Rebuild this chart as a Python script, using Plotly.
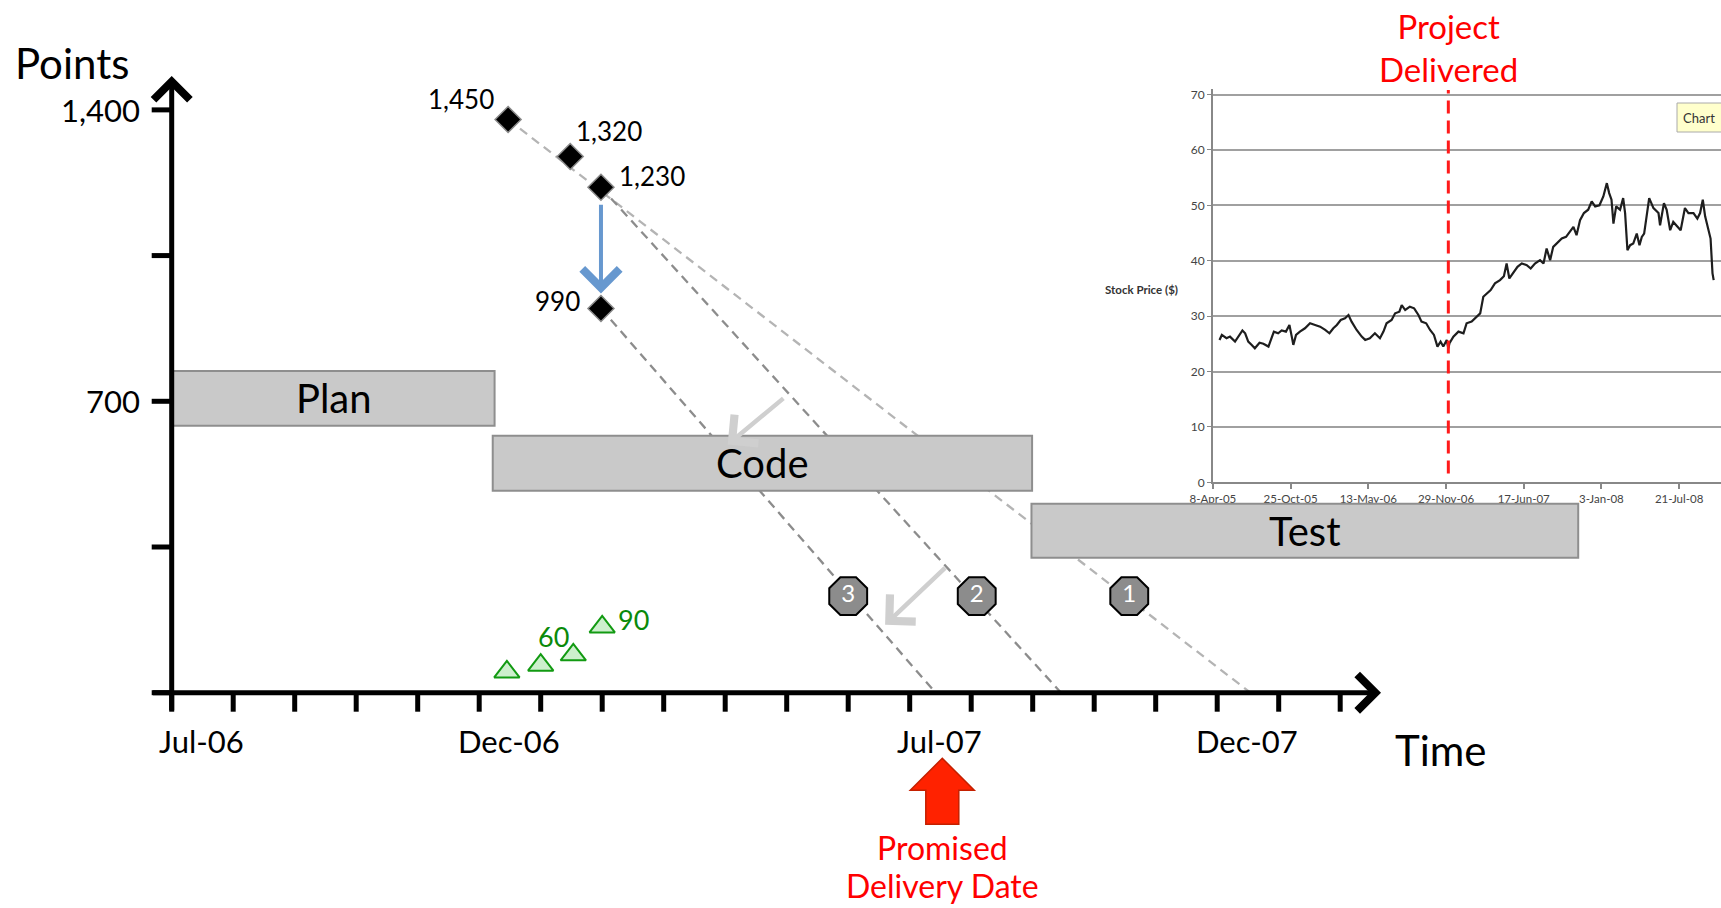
import plotly.graph_objects as go
import pandas as pd

# ---------------- data: main burn-down sketch (x = months since Jul-06, y = points)
month_tick_index = list(range(20))
month_labels = ["Jul-06", "Dec-06", "Jul-07", "Dec-07"]
month_label_index = [0, 5, 12, 17]
y_tick_values = [0, 350, 700, 1050, 1400]
y_tick_labels = ["", "", "700", "", "1,400"]

remaining_month = [5.47, 6.48, 6.98, 6.98]
remaining_pts = [1377, 1288, 1214, 923]
remaining_labels = ["1,450", "1,320", "1,230", "990"]

velocity_month = [5.45, 6.0, 6.53, 7.0]
velocity_pts = [50, 66, 91, 158]
velocity_labels = ["", "", "60", "90"]

proj_ids = ["1", "2", "3"]
proj_start_month = [5.47, 6.98, 6.98]
proj_start_pts = [1377, 1214, 923]
proj_end_month = [17.54, 14.46, 12.42]
proj_marker_month = [15.57, 13.09, 11.0]
proj_marker_pts = [232, 232, 232]

phase_names = ["Plan", "Code", "Test"]
phase_start = [0.02, 5.22, 13.98]
phase_end = [5.25, 13.99, 22.87]
phase_low = [641, 485, 324]
phase_high = [773, 617, 454]

replan_arrow_month = [6.98, 6.98]
replan_arrow_pts = [1176, 959]

shift_arrow_from_month = [9.97, 12.60]
shift_arrow_from_pts = [710, 303]
shift_arrow_to_month = [9.04, 11.60]
shift_arrow_to_pts = [596, 163]

promised_month = 12.53
promised_caption = ["Promised", "Delivery Date"]

# ---------------- data: inset stock chart (days since 8-Apr-05, price $)
stock_start = "2005-04-08"
stock_day = [17, 23, 35, 44, 57, 66, 76, 83, 91, 100, 108, 120, 130, 143, 151, 157, 168, 177,
             188, 197, 203, 207, 214, 224, 237, 250, 263, 276, 289, 300, 310, 319, 329, 340,
             349, 357, 370, 383, 392, 404, 417, 430, 439, 447, 460, 469, 480, 486, 495, 507,
             518, 529, 537, 549, 559, 569, 578, 586, 593, 602, 606, 609, 619, 632, 645, 653,
             666, 679, 688, 696, 705, 715, 726, 739, 749, 756, 763, 773, 784, 795, 808, 818,
             829, 842, 851, 859, 868, 876, 889, 898, 909, 919, 928, 936, 945, 955, 966, 975,
             984, 995, 1005, 1014, 1020, 1026, 1031, 1038, 1048, 1056, 1061, 1067, 1074, 1082,
             1091, 1098, 1104, 1110, 1117, 1123, 1134, 1147, 1151, 1161, 1168, 1177, 1185, 1195,
             1204, 1215, 1224, 1237, 1247, 1254, 1261, 1267, 1275, 1281, 1286, 1289]
stock_price = [25.7, 26.6, 26.0, 26.3, 25.4, 26.3, 27.4, 26.9, 25.4, 24.8, 24.2, 25.2, 25.0, 24.5,
               26.0, 27.2, 26.9, 27.4, 27.2, 28.4, 26.3, 24.8, 26.6, 27.2, 27.8, 28.7, 28.4, 28.1,
               27.5, 26.9, 27.8, 28.4, 29.3, 29.6, 30.2, 29.0, 27.5, 26.3, 25.7, 26.0, 26.9, 26.0,
               27.2, 28.7, 29.3, 30.5, 30.8, 32.0, 31.1, 31.7, 31.4, 30.2, 29.0, 28.7, 27.5, 26.6,
               24.5, 25.4, 24.5, 25.7, 24.2, 25.1, 26.3, 27.2, 26.9, 28.7, 29.0, 29.9, 30.5, 33.5,
               34.1, 34.7, 35.9, 36.5, 37.2, 39.5, 36.8, 37.7, 38.9, 39.5, 39.2, 38.6, 39.5, 40.1,
               39.5, 42.2, 40.1, 42.5, 43.4, 44.0, 44.3, 45.2, 46.1, 44.6, 47.3, 48.6, 49.2, 50.7,
               49.8, 50.0, 51.6, 54.0, 52.2, 51.0, 46.7, 49.8, 49.2, 51.3, 48.6, 41.9, 42.8, 43.1,
               44.9, 42.8, 44.3, 44.9, 48.6, 51.3, 49.5, 48.6, 46.4, 50.4, 49.2, 45.5, 47.0, 46.1,
               45.5, 49.5, 48.6, 48.6, 47.6, 48.6, 51.0, 48.0, 45.8, 44.0, 37.7, 36.5]
stock_tick_dates = ["2005-04-08", "2005-10-25", "2006-05-13", "2006-11-29",
                    "2007-06-17", "2008-01-03", "2008-07-21"]
stock_tick_labels = ["8-Apr-05", "25-Oct-05", "13-May-06", "29-Nov-06",
                     "17-Jun-07", "3-Jan-08", "21-Jul-08"]
stock_y_ticks = [0, 10, 20, 30, 40, 50, 60, 70]
delivered_date = "2006-12-05"

# ---------------- geometry (pixels of the 1721x908 canvas)
W, H = 1721, 908
X0_PX, PX_PER_MONTH = 171.7, 61.5
Y0_PX, PX_PER_PT = 692.7, 0.4163
INSET_LEFT_PX, INSET_PX_PER_DAY = 1212.9, 0.3885
INSET_ZERO_PX, INSET_PX_PER_UNIT = 482.3, 5.54


def mx(px):
    return (px - X0_PX) / PX_PER_MONTH


def py(px):
    return (Y0_PX - px) / PX_PER_PT


FONT = "Lato"
start = pd.Timestamp(stock_start)
stock_dates = start + pd.to_timedelta(stock_day, unit="D")
inset_end = start + pd.Timedelta(days=(W - INSET_LEFT_PX) / INSET_PX_PER_DAY)

fig = go.Figure()

# projection lines
proj_colors = ["#b4b4b4", "#8c8c8c", "#8c8c8c"]
for i in range(len(proj_ids)):
    fig.add_trace(go.Scatter(
        x=[proj_start_month[i], proj_end_month[i]], y=[proj_start_pts[i], 0],
        mode="lines", line=dict(color=proj_colors[i], width=2.3, dash="9px,6px"),
        hoverinfo="skip", showlegend=False))

# remaining points (diamonds)
fig.add_trace(go.Scatter(
    x=remaining_month, y=remaining_pts, mode="markers",
    marker=dict(symbol="diamond", size=20, color="black", line=dict(color="#8a8a8a", width=1.5)),
    hoverinfo="skip", showlegend=False))

# velocity (green triangles)
fig.add_trace(go.Scatter(
    x=velocity_month, y=velocity_pts, mode="markers",
    marker=dict(symbol="triangle-up", size=22, color="#cdefcd", line=dict(color="#129a12", width=2)),
    hoverinfo="skip", showlegend=False))

# projection markers
fig.add_trace(go.Scatter(
    x=proj_marker_month, y=proj_marker_pts, mode="markers+text", text=proj_ids,
    textposition="middle center", textfont=dict(family=FONT, size=24, color="white"),
    marker=dict(symbol="octagon", size=41, color="#8c8c8c", line=dict(color="black", width=2)),
    hoverinfo="skip", showlegend=False))

# inset stock price
fig.add_trace(go.Scatter(
    x=stock_dates, y=stock_price, xaxis="x2", yaxis="y2", mode="lines",
    line=dict(color="#1e1e1e", width=2.2), hoverinfo="skip", showlegend=False))
fig.add_trace(go.Scatter(
    x=[delivered_date, delivered_date], y=[1.6, 70.8], xaxis="x2", yaxis="y2", mode="lines",
    line=dict(color="#ff1a1a", width=3, dash="13px,7px"), hoverinfo="skip", showlegend=False))

shapes = []
# axis ticks
for v in y_tick_values:
    shapes.append(dict(type="line", xref="x", yref="y", xsizemode="pixel", xanchor=0,
                       x0=-20, x1=0, y0=v, y1=v, line=dict(color="black", width=5)))
for m in month_tick_index:
    shapes.append(dict(type="line", xref="x", yref="y", ysizemode="pixel", yanchor=0,
                       y0=0, y1=-19, x0=m, x1=m, line=dict(color="black", width=5)))
# phase boxes
for i in range(len(phase_names)):
    shapes.append(dict(type="rect", xref="x", yref="y", x0=phase_start[i], x1=phase_end[i],
                       y0=phase_low[i], y1=phase_high[i], fillcolor="#c9c9c9",
                       line=dict(color="#8e8e8e", width=2), layer="above"))
# promised-date block arrow
shapes.append(dict(type="path", xref="x", yref="y", xsizemode="pixel", ysizemode="pixel",
                   xanchor=promised_month, yanchor=py(758.3),
                   path="M 0 0 L 32 -32 L 16.5 -32 L 16.5 -66 L -16.5 -66 L -16.5 -32 L -32 -32 Z",
                   fillcolor="#ff2200", line=dict(color="#c42000", width=1.5), layer="above"))
# tooltip box in inset
shapes.append(dict(type="rect", xref="paper", yref="paper", x0=1677 / W, x1=1.02,
                   y0=1 - 132 / H, y1=1 - 103 / H, fillcolor="#ffffcc",
                   line=dict(color="#aaaaaa", width=1), layer="above"))

ann = []


def text(x, y, s, size, color="black", xanchor="center", xref="x", yref="y", **kw):
    ann.append(dict(x=x, y=y, text=s, xref=xref, yref=yref, showarrow=False, xanchor=xanchor,
                    yanchor="middle", font=dict(family=FONT, size=size, color=color), **kw))


def arrow(x0, y0, x1, y1, color, width, size):
    ann.append(dict(x=x1, y=y1, ax=x0, ay=y0, xref="x", yref="y", axref="x", ayref="y",
                    text="", showarrow=True, arrowhead=4, arrowsize=size, arrowwidth=width,
                    arrowcolor=color, standoff=0, startstandoff=0))


# axes with arrowheads
arrow(mx(151.4), 0, mx(1381), 0, "black", 5, 1.4)
arrow(0, py(711.7), 0, py(76), "black", 5, 1.4)

# axis labels
text(mx(72), py(63), "Points", 42)
text(mx(1440), py(750), "Time", 42)
for v, s in zip(y_tick_values, y_tick_labels):
    if s:
        text(mx(142), v, s, 31, xanchor="right")
for idx, s in zip(month_label_index, month_labels):
    text(idx + 0.48, py(741), s, 31)

# phase labels
for i, s in enumerate(phase_names):
    text((phase_start[i] + phase_end[i]) / 2, (phase_low[i] + phase_high[i]) / 2, s, 40)

# data labels
rem_style = [("right", -12, 20), ("left", 4, 26), ("left", 16, 11), ("right", -19, 7)]
for (xa, xs, ys), xm, yp, s in zip(rem_style, remaining_month, remaining_pts, remaining_labels):
    text(xm, yp, s, 26, xanchor=xa, xshift=xs, yshift=ys)
vel_style = [("center", 0, 0), ("center", 0, 0), ("center", -20, 18), ("left", 14, 7)]
for (xa, xs, ys), xm, yp, s in zip(vel_style, velocity_month, velocity_pts, velocity_labels):
    if s:
        text(xm, yp, s, 27, color="#0a8a0a", xanchor=xa, xshift=xs, yshift=ys)

# arrows
arrow(replan_arrow_month[0], replan_arrow_pts[0], replan_arrow_month[1], replan_arrow_pts[1],
      "#6798cf", 4, 1.8)
for i in range(2):
    arrow(shift_arrow_from_month[i], shift_arrow_from_pts[i], shift_arrow_to_month[i],
          shift_arrow_to_pts[i], "#cfcfcf", 4.5, 1.6)

# promised / delivered captions
for s, ypx in zip(promised_caption, [847, 885]):
    text(promised_month, py(ypx), s, 32, color="#ff0000")
text(delivered_date, 1 - 47 / H, "Project<br>Delivered", 33, color="#ff0000",
     xref="x2", yref="paper")

# inset captions
text(1180 / W, 1 - 290 / H, "<b>Stock Price ($)</b>", 11.5, color="#333333",
     xanchor="right", xref="paper", yref="paper")
text(1681 / W, 1 - 117.5 / H, "Chart", 13, color="#333333",
     xanchor="left", xref="paper", yref="paper")

inset_y_top = 71
fig.update_layout(
    width=W, height=H, margin=dict(l=0, r=0, t=0, b=0, pad=0, autoexpand=False),
    paper_bgcolor="white", plot_bgcolor="rgba(0,0,0,0)", showlegend=False,
    font=dict(family=FONT),
    xaxis=dict(visible=False, range=[mx(0), mx(W)], domain=[0, 1], fixedrange=True,
               automargin=False),
    yaxis=dict(visible=False, range=[py(H), py(0)], domain=[0, 1], fixedrange=True,
               automargin=False),
    xaxis2=dict(anchor="y2", domain=[INSET_LEFT_PX / W, 1], type="date", automargin=False,
                range=[start, inset_end], tickvals=stock_tick_dates, ticktext=stock_tick_labels,
                ticks="outside", ticklen=5, tickcolor="#888888", tickwidth=1.5,
                showline=True, linecolor="#888888", linewidth=1.5, showgrid=False,
                zeroline=False, tickfont=dict(family=FONT, size=11.5, color="#444444")),
    yaxis2=dict(anchor="x2", automargin=False,
                domain=[1 - INSET_ZERO_PX / H,
                        1 - (INSET_ZERO_PX - inset_y_top * INSET_PX_PER_UNIT) / H],
                range=[0, inset_y_top], tickvals=stock_y_ticks, ticks="outside", ticklen=4,
                tickcolor="#888888", showline=True, linecolor="#888888", linewidth=1.5,
                showgrid=True, gridcolor="#a0a0a0", gridwidth=1.5, zeroline=False,
                tickfont=dict(family=FONT, size=12, color="#444444")),
    shapes=shapes, annotations=ann,
)

fig.write_html("out.html", include_plotlyjs=True, config={"displayModeBar": False})
